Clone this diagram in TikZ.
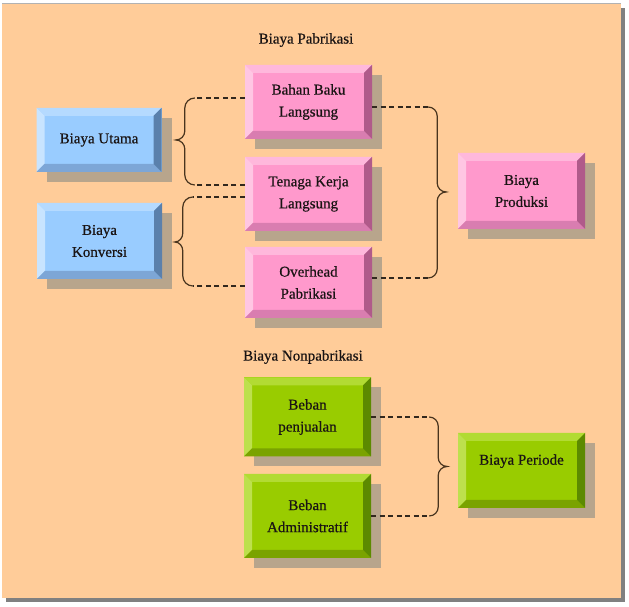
\documentclass[tikz,border=0pt]{standalone}
\usepackage{fontspec}
\setmainfont{Liberation Serif}
\newfontfamily\boxfont{Liberation Serif}[FakeBold=0.6]
\usepackage{tikz}
\usetikzlibrary{calc}
\usetikzlibrary{shadows}

\definecolor{peach}{RGB}{255,204,153}
\definecolor{frame}{RGB}{128,128,128}
\definecolor{shadowc}{RGB}{184,165,140}
\definecolor{inkc}{RGB}{26,20,20}
\definecolor{bracec}{RGB}{72,52,30}
\definecolor{dashc}{RGB}{50,40,30}
% blue boxes
\definecolor{bluef}{RGB}{153,204,255}
\definecolor{bluet}{RGB}{181,218,255}
\definecolor{bluel}{RGB}{200,228,255}
\definecolor{blueb}{RGB}{125,166,214}
\definecolor{bluer}{RGB}{90,128,172}
% pink boxes
\definecolor{pinkf}{RGB}{255,153,204}
\definecolor{pinkt}{RGB}{255,184,220}
\definecolor{pinkl}{RGB}{255,198,227}
\definecolor{pinkb}{RGB}{217,125,176}
\definecolor{pinkr}{RGB}{176,90,138}
% green boxes
\definecolor{greenf}{RGB}{153,204,0}
\definecolor{greent}{RGB}{178,219,51}
\definecolor{greenl}{RGB}{189,224,77}
\definecolor{greenb}{RGB}{122,163,0}
\definecolor{greenr}{RGB}{92,138,0}

\tikzset{
  bevel/.style n args={5}{fill=#1, path picture={
    \coordinate (nw) at (path picture bounding box.north west);
    \coordinate (ne) at (path picture bounding box.north east);
    \coordinate (sw) at (path picture bounding box.south west);
    \coordinate (se) at (path picture bounding box.south east);
    \fill[#2] (nw) -- (ne) -- ($(ne)+(-8pt,-8pt)$) -- ($(nw)+(8pt,-8pt)$) -- cycle;
    \fill[#3] (nw) -- ($(nw)+(8pt,-8pt)$) -- ($(sw)+(8pt,8pt)$) -- (sw) -- cycle;
    \fill[#4] (sw) -- ($(sw)+(8pt,8pt)$) -- ($(se)+(-8pt,8pt)$) -- (se) -- cycle;
    \fill[#5] (se) -- ($(se)+(-8pt,8pt)$) -- ($(ne)+(-8pt,-8pt)$) -- (ne) -- cycle;
  }},
  box/.style={inner sep=0pt, align=center, text=inkc, minimum width=127pt,
    font=\boxfont\fontsize{15}{22}\selectfont,
    drop shadow={shadow xshift=10pt, shadow yshift=-10pt, fill=shadowc, opacity=1}},
  bluebox/.style={box, minimum width=125pt, bevel={bluef}{bluet}{bluel}{blueb}{bluer}},
  pinkbox/.style={box, bevel={pinkf}{pinkt}{pinkl}{pinkb}{pinkr}},
  greenbox/.style={box, bevel={greenf}{greent}{greenl}{greenb}{greenr}},
  title/.style={text=inkc, inner sep=0pt, font=\boxfont\fontsize{15}{18}\selectfont},
  dashline/.style={dashc, line width=1.2pt, dash pattern=on 5pt off 3.5pt},
  braceline/.style={bracec, line width=1.2pt}
}

\begin{document}
\begin{tikzpicture}[x=1pt,y=1pt]
  \useasboundingbox (0,0) rectangle (629,607);
  \fill[frame] (6,5) rectangle (625,599);
  \fill[peach] (2,9) rectangle (621,603);
  \draw[gray!60,line width=1pt] (2,603) -- (621,603);

  % Biaya Pabrikasi
  \node[title] at (306,567) (pabrik) {Biaya Pabrikasi};
  \node[pinkbox,minimum height=74pt] at (308.5,505) (bahan) {Bahan Baku\\Langsung};
  \node[pinkbox,minimum height=74pt] at ([yshift=-92pt]bahan) (tenaga) {Tenaga Kerja\\Langsung};
  \node[pinkbox,minimum height=71pt] at ([yshift=-180.5pt]bahan) (overhead) {Overhead\\Pabrikasi};
  \node[pinkbox,minimum height=76pt] at ([xshift=213pt,yshift=3pt]tenaga) (produksi) {Biaya\\Produksi};

  \node[bluebox,minimum height=64pt] at (99,467) (utama) {Biaya Utama};
  \node[bluebox,minimum height=76pt] at (99.5,366) (konversi) {Biaya\\Konversi};

  % Biaya Nonpabrikasi
  \node[title,anchor=west] at (243,250) (nonpabrik) {Biaya Nonpabrikasi};
  \node[greenbox,minimum height=79pt] at (307.5,190) (jual) {Beban\\penjualan};
  \node[greenbox,minimum height=84pt] at ([yshift=-99pt]jual) (admin) {Beban\\Administratif};
  \node[greenbox,minimum height=75pt] at (521.5,136.5) (periode) {Biaya Periode\\ \mbox{}};

  % brace ends
  \coordinate (ut1) at ([xshift=-50pt,yshift=4pt]bahan.west);
  \coordinate (ut2) at ([xshift=-50pt,yshift=9pt]tenaga.west);
  \coordinate (kv1) at ([xshift=-52pt,yshift=-3pt]tenaga.west);
  \coordinate (kv2) at ([xshift=-52pt,yshift=-3.5pt]overhead.west);
  \coordinate (pr1) at ([xshift=56pt,yshift=-5pt]bahan.east);
  \coordinate (pr2) at ([xshift=56pt,yshift=4.5pt]overhead.east);
  \coordinate (pd1) at ([xshift=58pt]jual.east);
  \coordinate (pd2) at ([xshift=58pt]admin.east);

  \draw[dashline] ([yshift=4pt]bahan.west) -- (ut1);
  \draw[dashline] ([yshift=9pt]tenaga.west) -- (ut2);
  \draw[braceline] (ut1) to[out=180,in=90] ++(-10,-10) -- ++(0,-23)
    to[out=-90,in=0] ++(-9,-9) to[out=0,in=90] ++(9,-9) -- ++(0,-26)
    to[out=-90,in=180] (ut2);

  \draw[dashline] ([yshift=-3pt]tenaga.west) -- (kv1);
  \draw[dashline] ([yshift=-3.5pt]overhead.west) -- (kv2);
  \draw[braceline] (kv1) to[out=180,in=90] ++(-10,-10) -- ++(0,-26)
    to[out=-90,in=0] ++(-8,-9) to[out=0,in=90] ++(8,-9) -- ++(0,-25)
    to[out=-90,in=180] (kv2);

  \draw[dashline] ([yshift=-5pt]bahan.east) -- (pr1);
  \draw[dashline] ([yshift=4.5pt]overhead.east) -- (pr2);
  \draw[braceline] (pr1) to[out=0,in=90] ++(9,-9) -- ++(0,-67)
    to[out=-90,in=180] ++(9,-9) to[out=180,in=90] ++(-9,-9) -- ++(0,-68)
    to[out=-90,in=0] (pr2);

  \draw[dashline] (jual.east) -- (pd1);
  \draw[dashline] (admin.east) -- (pd2);
  \draw[braceline] (pd1) to[out=0,in=90] ++(9,-9) -- ++(0,-31.5)
    to[out=-90,in=180] ++(9,-9) to[out=180,in=90] ++(-9,-9) -- ++(0,-31.5)
    to[out=-90,in=0] (pd2);

\end{tikzpicture}
\end{document}
